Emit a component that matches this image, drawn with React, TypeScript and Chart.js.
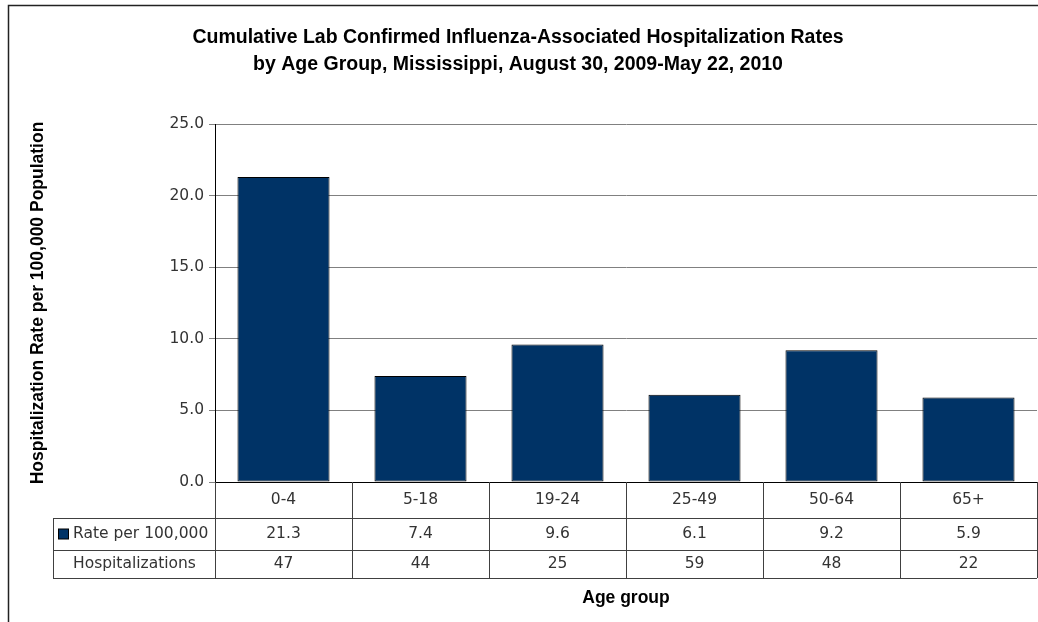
import React, { useEffect, useRef } from "react";
import { Chart, registerables } from "chart.js";

Chart.register(...registerables);

const titleLines = [
  "Cumulative Lab Confirmed Influenza-Associated Hospitalization Rates",
  "by Age Group, Mississippi, August 30, 2009-May 22, 2010",
];
const yAxisTitle = "Hospitalization Rate per 100,000 Population";
const xAxisTitle = "Age group";
const ageGroups = ["0-4", "5-18", "19-24", "25-49", "50-64", "65+"];
const ratePer100k = [21.3, 7.4, 9.6, 6.1, 9.2, 5.9];
const hospitalizations = [47, 44, 25, 59, 48, 22];
const rateLabel = "Rate per 100,000";
const hospLabel = "Hospitalizations";

const BAR = "#003366";
const TEXT = "#333333";
const TICK_FONT = "DejaVu Sans";
const BOLD_FONT = "Liberation Sans";

const tablePlugin = {
  id: "tablePlugin",
  afterDraw(chart: any) {
    const ctx = chart.ctx as CanvasRenderingContext2D;
    const area = chart.chartArea;
    const xs = chart.scales.x;
    const n = ageGroups.length;
    const left = area.left;
    const right = area.right;
    const w = (right - left) / n;
    const r0 = area.bottom;
    const r1 = r0 + 36;
    const r2 = r1 + 32;
    const r3 = r2 + 28;
    const legLeft = 53;

    ctx.save();
    // frame
    ctx.strokeStyle = "#222";
    ctx.lineWidth = 1.5;
    ctx.strokeRect(8.5, 5.5, 3000, 3000);

    // table lines
    ctx.strokeStyle = "#404040";
    ctx.lineWidth = 1;
    ctx.beginPath();
    for (let i = 0; i <= n; i++) {
      const x = Math.round(left + i * w) + 0.5;
      ctx.moveTo(x, r0);
      ctx.lineTo(x, r3);
    }
    for (const y of [r1, r2, r3]) {
      ctx.moveTo(legLeft, Math.round(y) + 0.5);
      ctx.lineTo(right, Math.round(y) + 0.5);
    }
    ctx.moveTo(legLeft + 0.5, r1);
    ctx.lineTo(legLeft + 0.5, r3);
    ctx.stroke();

    // table texts
    ctx.fillStyle = TEXT;
    ctx.font = `15.5px "${TICK_FONT}"`;
    ctx.textAlign = "center";
    ctx.textBaseline = "middle";
    for (let i = 0; i < n; i++) {
      const cx = xs.getPixelForValue(i);
      ctx.fillText(ageGroups[i], cx, (r0 + r1) / 2);
      ctx.fillText(ratePer100k[i].toFixed(1), cx, (r1 + r2) / 2);
      ctx.fillText(String(hospitalizations[i]), cx, (r2 + r3) / 2);
    }
    // legend
    const sy = (r1 + r2) / 2;
    ctx.fillStyle = BAR;
    ctx.fillRect(58.5, sy - 5, 10, 10);
    ctx.strokeStyle = "#000";
    ctx.strokeRect(58.5, sy - 5, 10, 10);
    ctx.fillStyle = TEXT;
    ctx.textAlign = "left";
    ctx.fillText(rateLabel, 73, sy);
    ctx.fillText(hospLabel, 73, (r2 + r3) / 2);

    // titles
    ctx.fillStyle = "#000";
    ctx.textAlign = "center";
    ctx.textBaseline = "alphabetic";
    ctx.font = `bold 19.5px "${BOLD_FONT}"`;
    ctx.fillText(titleLines[0], 518, 43);
    ctx.fillText(titleLines[1], 518, 70);

    ctx.font = `bold 17.5px "${BOLD_FONT}"`;
    ctx.fillText(xAxisTitle, (left + right) / 2, 603);
    ctx.restore();
  },
};

export default function App() {
  const ref = useRef<HTMLCanvasElement | null>(null);
  useEffect(() => {
    if (!ref.current) return;
    const chart = new Chart(ref.current, {
      type: "bar",
      data: {
        labels: ageGroups,
        datasets: [
          {
            label: rateLabel,
            data: ratePer100k,
            backgroundColor: BAR,
            borderColor: "#000",
            borderWidth: 1,
            borderSkipped: false,
            barPercentage: 0.672,
            categoryPercentage: 1,
          },
        ],
      },
      options: {
        animation: false,
        responsive: false,
        maintainAspectRatio: false,
        layout: { padding: { left: 0, right: 1, top: 124, bottom: 0 } },
        plugins: {
          legend: { display: false },
          title: { display: false },
          tooltip: { enabled: false },
        },
        scales: {
          x: {
            type: "category",
            ticks: { display: false },
            grid: { display: false },
            border: { display: true, color: "#000", width: 1 },
            afterFit: (s: any) => {
              s.height = 140;
            },
          },
          y: {
            min: 0,
            max: 25,
            ticks: {
              stepSize: 5,
              color: TEXT,
              font: { family: TICK_FONT, size: 15.5 },
              padding: 5,
              callback: (v: any) => Number(v).toFixed(1),
            },
            grid: { color: "#808080", lineWidth: 1, tickLength: 6 },
            border: { display: true, color: "#000", width: 1 },
            title: {
              display: true,
              text: yAxisTitle,
              color: "#000",
              font: { family: BOLD_FONT, size: 17.5, weight: "bold" },
              padding: { top: 28, bottom: 0 },
            },
            afterFit: (s: any) => {
              s.width = 215;
            },
          },
        },
      },
      plugins: [tablePlugin],
    });
    return () => chart.destroy();
  }, []);
  return (
    <div style={{ position: "absolute", left: 0, top: 0, width: 1038, height: 622, background: "#fff" }}>
      <canvas ref={ref} width={1038} height={622} style={{ display: "block", width: 1038, height: 622 }} />
    </div>
  );
}
